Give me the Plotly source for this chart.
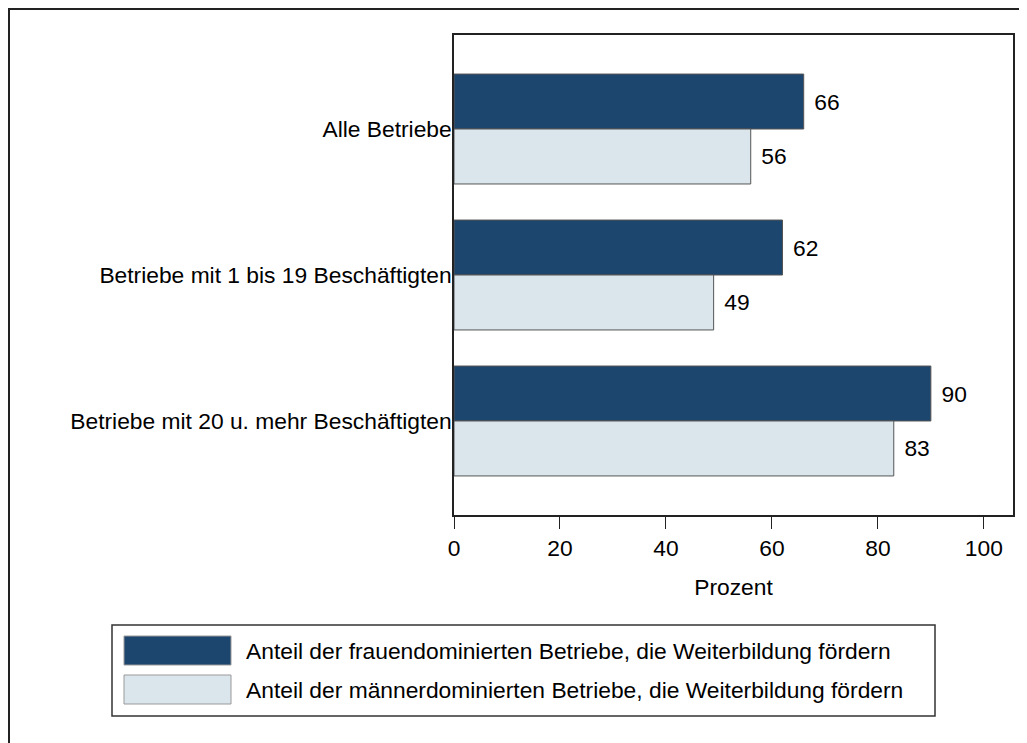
import plotly.graph_objects as go

categories = ["Alle Betriebe", "Betriebe mit 1 bis 19 Beschäftigten", "Betriebe mit 20 u. mehr Beschäftigten"]
frauen = [66, 62, 90]
maenner = [56, 49, 83]
series_names = ["Anteil der frauendominierten Betriebe, die Weiterbildung fördern",
                "Anteil der männerdominierten Betriebe, die Weiterbildung fördern"]
x_ticks = [0, 20, 40, 60, 80, 100]

DARK = "#1d466e"
LIGHT = "#dae6ec"
FONT = "Liberation Sans, Arial, sans-serif"
FS = 22.8

OFF = 8  # page offset of the figure
W, H = 1027, 743
L, R, T, B = 446, 22, 27, 236
pw, ph = W - L - R, H - T - B

def px(x):  # page x -> paper
    return (x - OFF - L) / pw

def py(y):  # page y -> paper
    return (H - B - (y - OFF)) / ph

fig = go.Figure()
for name, vals, col in [(series_names[0], frauen, DARK), (series_names[1], maenner, LIGHT)]:
    fig.add_trace(go.Bar(
        y=categories, x=vals, orientation="h", name=name,
        marker=dict(color=col, line=dict(color="#555555", width=1)),
        text=[f"\u2004{v}" for v in vals], textposition="outside",
        textfont=dict(size=FS, color="black", family=FONT),
        cliponaxis=False, showlegend=False,
    ))

shapes = []
# outer frame (figure border)
shapes.append(dict(type="rect", xref="paper", yref="paper",
                   x0=px(9), x1=px(1100), y0=py(800), y1=py(9),
                   line=dict(color="#222222", width=2), fillcolor="rgba(0,0,0,0)", layer="below"))
# legend box
shapes.append(dict(type="rect", xref="paper", yref="paper",
                   x0=px(112), x1=px(935), y0=py(716), y1=py(625),
                   line=dict(color="#333333", width=1.5), fillcolor="white"))
annotations = []
for i, (name, col) in enumerate(zip(series_names, [DARK, LIGHT])):
    top = 636 + i * 39
    shapes.append(dict(type="rect", xref="paper", yref="paper",
                       x0=px(124), x1=px(231), y0=py(top + 29), y1=py(top),
                       line=dict(color="#999999", width=1), fillcolor=col))
    annotations.append(dict(xref="paper", yref="paper", x=px(244), y=py(top + 15),
                            xanchor="left", yanchor="middle", showarrow=False,
                            text=name, font=dict(size=FS, color="black", family=FONT)))

fig.update_layout(
    width=W, height=H,
    margin=dict(l=L, r=R, t=T, b=B, autoexpand=False),
    paper_bgcolor="white", plot_bgcolor="white",
    barmode="group", bargap=0.247, bargroupgap=0,
    font=dict(family=FONT, size=FS, color="black"),
    shapes=shapes, annotations=annotations,
    xaxis=dict(range=[0, 105.5], tickvals=x_ticks, ticks="outside", ticklen=12,
               tickcolor="#222222", showgrid=False, zeroline=False,
               showline=True, mirror=True, linecolor="#222222", linewidth=1.5,
               tickfont=dict(size=FS, family=FONT, color="black"),
               title=dict(text="Prozent", standoff=19, font=dict(size=FS, family=FONT, color="black"))),
    yaxis=dict(range=[2.644, -0.644], showgrid=False, zeroline=False, ticks="",
               ticklabelstandoff=-4,
               showline=True, mirror=True, linecolor="#222222", linewidth=1.5,
               tickfont=dict(size=FS, family=FONT, color="black")),
)

fig.write_html("out.html")
